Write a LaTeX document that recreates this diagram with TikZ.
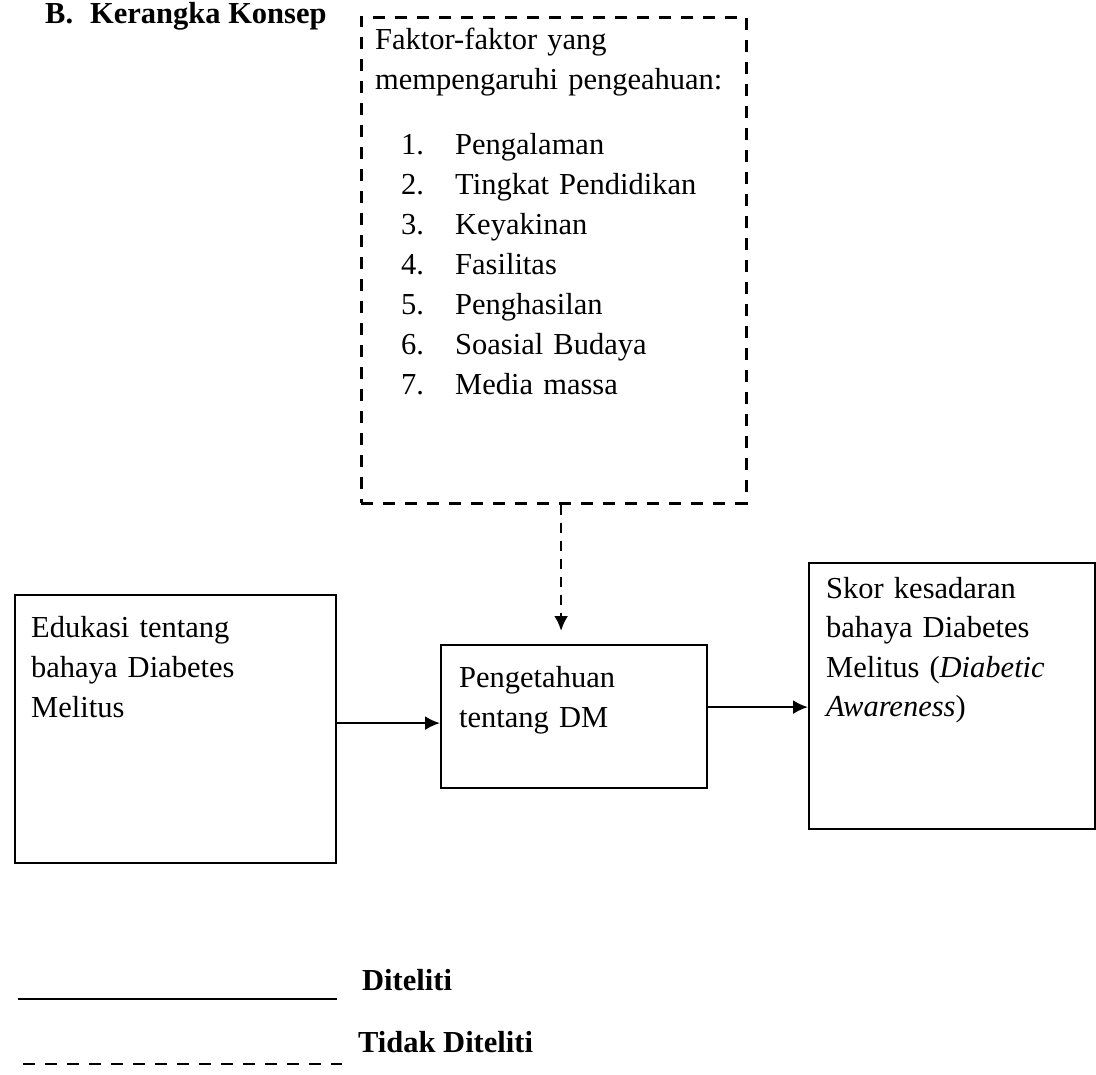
\documentclass[tikz,border=0pt]{standalone}
\usepackage{fontspec}
\setmainfont{Liberation Serif}
\usetikzlibrary{positioning,arrows.meta}

\tikzset{
	kotak/.style={draw, line width=2.2pt, inner sep=0pt, anchor=north west},
	kotakputus/.style={kotak, line width=2.6pt, dash pattern=on 12pt off 10pt},
	teks/.style={anchor=base west, inner sep=0pt, align=left, text width=360pt,
		font=\fontsize{30.5}{40}\selectfont},
	panah/.style={line width=2.2pt, -{Latex[length=15pt,width=14pt]}},
	panahputus/.style={panah, line width=2.6pt, dash pattern=on 10pt off 8pt},
	ket/.style={anchor=base west, inner sep=0pt, font=\fontsize{30.5}{36}\selectfont\bfseries},
}

\begin{document}
\begin{tikzpicture}[x=1pt, y=-1pt]
\useasboundingbox (0,0) rectangle (1096,1075);

% Judul
\node [ket] (judul) at (45,24) {B.\hspace{17pt}Kerangka Konsep};

% Faktor-faktor
\node [kotakputus,
	minimum width=385pt,
	minimum height=486pt
] (faktor) at (360,16) {};
\node [teks] (faktorteks) at ([xshift=15pt, yshift=-34pt]faktor.north west) {
Faktor-faktor yang\\
mempengaruhi pengeahuan:\\[25pt]
\hspace*{26pt}\makebox[54pt][l]{1.}Pengalaman\\
\hspace*{26pt}\makebox[54pt][l]{2.}Tingkat Pendidikan\\
\hspace*{26pt}\makebox[54pt][l]{3.}Keyakinan\\
\hspace*{26pt}\makebox[54pt][l]{4.}Fasilitas\\
\hspace*{26pt}\makebox[54pt][l]{5.}Penghasilan\\
\hspace*{26pt}\makebox[54pt][l]{6.}Soasial Budaya\\
\hspace*{26pt}\makebox[54pt][l]{7.}Media massa
};

% Edukasi
\node [kotak,
	minimum width=321pt,
	minimum height=268pt
] (edukasi) at (14,594) {};
\node [teks] (edukasiteks) at ([xshift=17pt, yshift=-43pt]edukasi.north west) {
Edukasi tentang\\
bahaya Diabetes\\
Melitus
};

% Pengetahuan
\node [kotak,
	minimum width=266pt,
	minimum height=143pt
] (pengetahuan) at (440,644) {};
\node [teks] (pengetahuanteks) at ([xshift=19pt, yshift=-43pt]pengetahuan.north west) {
Pengetahuan\\
tentang DM
};

% Skor kesadaran
\node [kotak,
	minimum width=286pt,
	minimum height=266pt
] (skor) at (808,562) {};
\node [teks, font=\fontsize{30.5}{39.5}\selectfont] (skorteks) at ([xshift=18pt, yshift=-36pt]skor.north west) {
Skor kesadaran\\
bahaya Diabetes\\
Melitus (\textit{Diabetic}\\
\textit{Awareness})
};

% Panah
\coordinate (masuk) at ([yshift=-6.5pt]pengetahuan.west);
\coordinate (keluar) at ([yshift=9.5pt]pengetahuan.east);
\coordinate (atas) at ([xshift=-13pt]pengetahuan.north);
\draw [panah] (edukasi.east |- masuk) -- (masuk);
\draw [panah] (keluar) -- (keluar -| skor.west);
\draw [panahputus, shorten >=13pt] (atas |- faktor.south) -- (atas);

% Keterangan
\node [ket] (diteliti) at (362,990) {Diteliti};
\node [ket] (tidakditeliti) at (358,1052) {Tidak Diteliti};
\coordinate (garissatu) at (18,999);
\coordinate (garisdua) at (23,1064);
\draw [line width=2.2pt, shorten >=25pt] (garissatu) -- (garissatu -| diteliti.west);
\draw [line width=2.6pt, dash pattern=on 12pt off 10pt, shorten >=16pt] (garisdua) -- (garisdua -| tidakditeliti.west);

\end{tikzpicture}
\end{document}
